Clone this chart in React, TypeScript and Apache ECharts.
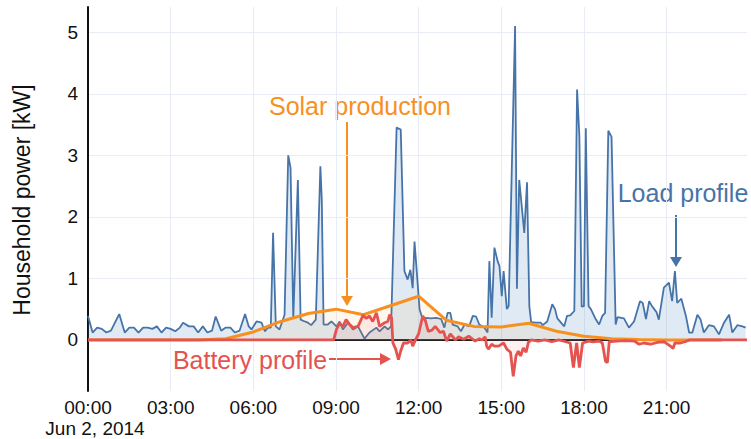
import React, { useEffect, useRef } from "react";
import * as echarts from "echarts";

// time in minutes after midnight (Jun 2, 2014), power in kW
const loadProfile: [number, number][] = [
  [0, 0.39], [10, 0.12], [20, 0.2], [30, 0.18], [40, 0.12], [50, 0.15], [60, 0.3], [68, 0.42], [80, 0.12],
  [90, 0.2], [100, 0.2], [110, 0.12], [120, 0.2], [130, 0.2], [140, 0.18], [150, 0.22], [160, 0.12],
  [170, 0.2], [180, 0.18], [190, 0.14], [200, 0.2], [207, 0.28], [220, 0.22], [230, 0.22], [240, 0.12],
  [250, 0.22], [260, 0.12], [270, 0.15], [278, 0.38], [290, 0.15], [300, 0.2], [310, 0.2], [320, 0.12],
  [330, 0.15], [342, 0.42], [350, 0.22], [356, 0.17], [367, 0.3], [378, 0.28], [385, 0.14], [392, 0.2],
  [398, 0.2], [403, 1.74], [409, 0.22], [417, 0.17], [428, 0.41], [436, 3.0], [441, 2.8], [447, 0.35],
  [457, 2.6], [463, 0.33], [472, 0.3], [479, 0.28], [486, 0.24], [496, 0.33], [506, 2.82], [509, 2.3],
  [513, 0.25], [522, 0.25], [530, 0.3], [541, 0.22], [548, 0.3], [555, 0.17], [566, 0.28], [577, 0.17],
  [588, 0.22], [602, 0.02], [613, 0.12], [628, 0.2], [635, 0.14], [646, 0.22], [653, 0.17], [660, 0.22],
  [672, 3.45], [681, 3.42], [689, 1.12], [696, 0.98], [702, 1.14], [707, 0.84], [711, 1.6], [722, 0.5],
  [729, 0.33], [736, 0.36], [747, 0.35], [758, 0.36], [769, 0.34], [776, 0.2], [783, 0.44], [789, 0.44],
  [794, 0.25], [805, 0.22], [812, 0.14], [820, 0.25], [830, 0.22], [838, 0.39], [845, 0.38], [852, 0.25],
  [863, 0.2], [870, 0.12], [874, 1.28], [879, 0.36], [885, 1.5], [892, 1.28], [896, 1.2], [901, 0.71],
  [905, 1.12], [912, 0.5], [916, 0.55], [930, 5.1], [934, 0.83], [939, 2.6], [950, 1.74], [956, 2.56],
  [961, 0.55], [965, 0.29], [975, 0.28], [986, 0.28], [990, 0.24], [1000, 0.3], [1011, 0.58], [1017, 0.5],
  [1022, 0.35], [1037, 0.22], [1043, 0.39], [1050, 0.4], [1059, 0.47], [1065, 4.07], [1070, 3.3],
  [1075, 0.54], [1080, 0.55], [1084, 3.44], [1090, 0.55], [1095, 0.5], [1106, 0.33], [1113, 0.25],
  [1120, 0.39], [1126, 0.44], [1133, 3.4], [1140, 3.3], [1149, 0.25], [1153, 0.37], [1167, 0.35],
  [1178, 0.2], [1189, 0.3], [1202, 0.63], [1208, 0.6], [1215, 0.34], [1222, 0.63], [1228, 0.55],
  [1233, 0.5], [1238, 0.45], [1243, 0.33], [1254, 0.85], [1265, 0.93], [1272, 0.63], [1278, 1.12],
  [1283, 0.6], [1292, 0.67], [1302, 0.39], [1309, 0.12], [1316, 0.12], [1327, 0.41], [1334, 0.33],
  [1341, 0.12], [1352, 0.24], [1363, 0.22], [1374, 0.09], [1385, 0.28], [1396, 0.41], [1403, 0.12],
  [1414, 0.24], [1425, 0.22], [1432, 0.2],
];

const solarHours = [0, 1, 2, 3, 4, 5, 6, 7, 8, 9, 10, 11, 12, 13, 14, 15, 16, 17, 18, 19, 20, 21, 22, 23];
const solarKw = [0, 0, 0, 0, 0, 0.02, 0.13, 0.3, 0.43, 0.5, 0.41, 0.56, 0.71, 0.32, 0.22, 0.21, 0.27, 0.14, 0.06, 0.02, 0.005, 0, 0, 0];

const batteryProfile: [number, number][] = [
  [0, 0], [535, 0], [541, 0.17], [548, 0.27], [555, 0.22], [562, 0.33], [570, 0.25], [577, 0.2],
  [588, 0.22], [599, 0.4], [606, 0.35], [613, 0.39], [620, 0.3], [628, 0.44], [635, 0.22], [646, 0.28],
  [653, 0.3], [657, 0.41], [661, 0.36], [664, -0.05], [670, -0.15], [676, -0.32], [681, -0.18],
  [687, -0.05], [696, -0.05], [703, 0], [707, -0.1], [713, 0], [720, 0.1], [729, 0.39], [734, 0.33],
  [741, 0.14], [749, 0.16], [756, 0.22], [767, 0.12], [774, 0.14], [781, -0.02], [789, 0.1], [800, 0.0],
  [807, 0.05], [818, 0.01], [829, 0.06], [843, -0.02], [852, 0.02], [858, 0.0], [865, 0.05], [868, -0.1],
  [872, -0.15], [879, -0.07], [885, -0.1], [894, -0.1], [905, -0.05], [912, -0.15], [920, -0.2],
  [926, -0.59], [932, -0.26], [937, -0.18], [942, -0.26], [948, -0.13], [954, -0.2], [959, -0.04],
  [965, 0], [980, -0.02], [995, 0.0], [1010, -0.03], [1025, 0.0], [1040, -0.03], [1050, -0.05],
  [1057, -0.45], [1064, -0.05], [1070, -0.45], [1077, -0.05], [1090, -0.02], [1100, -0.03],
  [1113, -0.02], [1120, -0.05], [1127, -0.35], [1131, -0.37], [1135, -0.03], [1150, -0.02],
  [1170, -0.01], [1190, -0.02], [1200, -0.07], [1210, -0.05], [1225, -0.07], [1240, -0.04],
  [1255, -0.03], [1268, -0.1], [1274, -0.14], [1278, -0.05], [1290, -0.05], [1300, -0.03],
  [1310, 0], [1435, 0],
];

const yTickValues = [0, 1, 2, 3, 4, 5];
const xTickValues = [0, 180, 360, 540, 720, 900, 1080, 1260];
const dateLabel = "Jun 2, 2014";

const FONT = "'Liberation Sans', Arial, Helvetica, sans-serif";
const BLUE = "#4774a8";
const ORANGE = "#f7901e";
const RED = "#e5534f";

export default function App() {
  const ref = useRef<HTMLDivElement>(null);
  useEffect(() => {
    if (!ref.current) return;
    const chart = echarts.init(ref.current, undefined, { renderer: "svg" });
    const pad = (n: number) => (n < 10 ? "0" + n : "" + n);
    const fmt = (v: number) => {
      const s = pad(Math.floor(v / 60)) + ":" + pad(Math.round(v % 60));
      return v === 0 ? "{t|" + s + "}\n{d|" + dateLabel + "}" : s;
    };
    chart.setOption({
      animation: false,
      backgroundColor: "#ffffff",
      grid: { left: 88, right: 4, top: 7, bottom: 47, containLabel: false },
      xAxis: {
        type: "value",
        min: 0,
        max: 1435,
        interval: 180,
        axisLine: { show: false },
        axisTick: { show: false, customValues: xTickValues },
        axisLabel: {
          customValues: xTickValues,
          formatter: fmt,
          showMinLabel: true,
          hideOverlap: false,
          color: "#111",
          fontFamily: FONT,
          fontSize: 19,
          lineHeight: 21,
          margin: 6,
          rich: {
            t: { fontFamily: FONT, fontSize: 19, lineHeight: 21, color: "#111" },
            d: { fontFamily: FONT, fontSize: 19, lineHeight: 21, color: "#111", padding: [0, 0, 0, 14] },
          },
        },
        splitLine: { show: true, lineStyle: { color: "#e8edf5", width: 1 } },
      },
      yAxis: {
        type: "value",
        min: -0.83,
        max: 5.41,
        axisLine: { show: true, onZero: false, lineStyle: { color: "#111", width: 2 } },
        axisTick: { show: false, customValues: yTickValues },
        axisLabel: {
          customValues: yTickValues,
          color: "#111",
          fontFamily: FONT,
          fontSize: 19,
          margin: 10,
        },
        splitLine: { show: true, lineStyle: { color: "#e8edf5", width: 1 } },
      },
      series: [
        {
          name: "zeroline",
          type: "line",
          data: [[0, 0], [1435, 0]],
          showSymbol: false,
          silent: true,
          lineStyle: { color: "#222", width: 2 },
          z: 1,
        },
        {
          name: "Load profile",
          type: "line",
          data: loadProfile,
          showSymbol: false,
          lineStyle: { color: BLUE, width: 1.8 },
          areaStyle: { color: "rgba(80,135,195,0.25)", origin: 0 },
          z: 2,
        },
        {
          name: "Solar production",
          type: "line",
          data: solarHours.map((h, i) => [h * 60, solarKw[i]]),
          showSymbol: false,
          lineStyle: { color: ORANGE, width: 3 },
          areaStyle: { color: "rgba(255,140,20,0.1)", origin: 0 },
          z: 3,
        },
        {
          name: "Battery profile",
          type: "line",
          data: batteryProfile,
          showSymbol: false,
          lineStyle: { color: RED, width: 2.8 },
          areaStyle: { color: "rgba(229,83,79,0.12)", origin: 0 },
          z: 4,
        },
      ],
      graphic: [
        {
          type: "text",
          x: 22,
          y: 200,
          rotation: Math.PI / 2,
          style: {
            text: "Household power [kW]",
            fill: "#111",
            font: `23px ${FONT}`,
            align: "center",
            verticalAlign: "middle",
          },
        },
        {
          type: "text",
          x: 360,
          y: 106,
          style: { text: "Solar production", fill: ORANGE, font: `25px ${FONT}`, align: "center", verticalAlign: "middle" },
        },
        { type: "line", shape: { x1: 347, y1: 122, x2: 347, y2: 297 }, style: { stroke: ORANGE, lineWidth: 2 } },
        { type: "polygon", shape: { points: [[341, 296], [353, 296], [347, 306]] }, style: { fill: ORANGE } },
        {
          type: "text",
          x: 683,
          y: 193,
          style: { text: "Load profile", fill: BLUE, font: `25px ${FONT}`, align: "center", verticalAlign: "middle" },
        },
        { type: "line", shape: { x1: 676, y1: 215, x2: 676, y2: 258 }, style: { stroke: BLUE, lineWidth: 2 } },
        { type: "polygon", shape: { points: [[670, 257], [682, 257], [676, 267]] }, style: { fill: BLUE } },
        {
          type: "text",
          x: 250,
          y: 360,
          style: { text: "Battery profile", fill: RED, font: `25px ${FONT}`, align: "center", verticalAlign: "middle" },
        },
        { type: "line", shape: { x1: 329, y1: 359, x2: 381, y2: 359 }, style: { stroke: RED, lineWidth: 2 } },
        { type: "polygon", shape: { points: [[380, 353], [380, 365], [391, 359]] }, style: { fill: RED } },
      ],
    });
    return () => chart.dispose();
  }, []);
  return (
    <div
      ref={ref}
      style={{ position: "fixed", left: 0, top: 0, width: 751, height: 439, background: "#fff" }}
    />
  );
}
